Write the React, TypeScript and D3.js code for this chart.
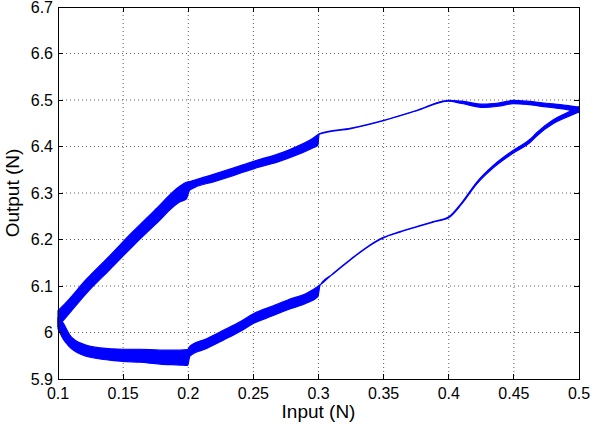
import React from "react";
import * as d3 from "d3";

// Hysteresis loop: output force against input force.
// Each branch: input (N), mean output (N), spread of the trace across cycles (N).
const upperInput = [
  0.1, 0.105, 0.122, 0.14, 0.157, 0.175, 0.1937, 0.1985, 0.201, 0.205, 0.2193,
  0.235, 0.25, 0.2704, 0.2833, 0.296, 0.2995, 0.3005, 0.325, 0.35, 0.375, 0.4,
  0.41, 0.4266, 0.438, 0.4496, 0.46, 0.475, 0.49, 0.5,
];
const upperOutput = [
  6.03, 6.045, 6.1, 6.151, 6.2, 6.249, 6.298, 6.305, 6.315, 6.32, 6.332, 6.346,
  6.36, 6.377, 6.391, 6.408, 6.414, 6.427, 6.439, 6.456, 6.477, 6.4985, 6.495,
  6.4875, 6.49, 6.4955, 6.494, 6.489, 6.484, 6.479,
];
const upperSpread = [
  0.034, 0.032, 0.03, 0.03, 0.031, 0.032, 0.034, 0.036, 0.019, 0.016, 0.016,
  0.016, 0.016, 0.017, 0.018, 0.021, 0.023, 0.001, 0.001, 0.001, 0.001, 0.002,
  0.005, 0.007, 0.007, 0.007, 0.007, 0.008, 0.009, 0.011,
];

const lowerInput = [
  0.1, 0.102, 0.104, 0.107, 0.1092, 0.114, 0.1194, 0.1322, 0.1497, 0.163,
  0.1783, 0.1937, 0.1995, 0.2013, 0.2141, 0.2269, 0.2397, 0.25, 0.2653, 0.2768,
  0.2909, 0.2995, 0.3012, 0.3114, 0.3242, 0.337, 0.3498, 0.3626, 0.3754, 0.3881,
  0.4, 0.41, 0.4214, 0.4342, 0.4496, 0.4624, 0.4675, 0.4803, 0.49, 0.5,
];
const lowerOutput = [
  6.02, 6.012, 6.003, 5.99, 5.981, 5.97, 5.963, 5.955, 5.951, 5.95, 5.947,
  5.946, 5.946, 5.96, 5.976, 5.994, 6.0125, 6.03, 6.047, 6.06, 6.074, 6.088,
  6.102, 6.127, 6.156, 6.183, 6.204, 6.2165, 6.2275, 6.238, 6.248, 6.278, 6.321,
  6.3566, 6.389, 6.412, 6.426, 6.4534, 6.467, 6.48,
];
const lowerSpread = [
  0.024, 0.03, 0.034, 0.03, 0.026, 0.024, 0.024, 0.024, 0.026, 0.028, 0.03,
  0.032, 0.034, 0.021, 0.021, 0.021, 0.021, 0.021, 0.021, 0.021, 0.021, 0.022,
  0.001, 0.001, 0.001, 0.001, 0.001, 0.001, 0.001, 0.001, 0.002, 0.003, 0.004,
  0.005, 0.006, 0.007, 0.007, 0.008, 0.009, 0.011,
];

const xTicks = [0.1, 0.15, 0.2, 0.25, 0.3, 0.35, 0.4, 0.45, 0.5];
const yTicks = [5.9, 6.0, 6.1, 6.2, 6.3, 6.4, 6.5, 6.6, 6.7];
const xTitle = "Input (N)";
const yTitle = "Output (N)";

const W = 593;
const H = 425;
const M = { left: 58, right: 14, top: 7, bottom: 46 };
const FONT = "'Liberation Sans', Arial, Helvetica, sans-serif";
const BLUE = "#0000ff";
const TICK = 5;

type Pt = { x: number; y: number; s: number };

function branch(xs: number[], ys: number[], ss: number[]): Pt[] {
  return xs.map((x, i) => ({ x, y: ys[i], s: ss[i] }));
}

const fmt = (v: number) => d3.format("~g")(+v.toFixed(2));

export default function App() {
  const x = d3.scaleLinear().domain([0.1, 0.5]).range([M.left, W - M.right]);
  const y = d3.scaleLinear().domain([5.9, 6.7]).range([H - M.bottom, M.top]);

  const band = d3
    .area<Pt>()
    .x((d) => x(d.x))
    .y0((d) => y(d.y - d.s / 2))
    .y1((d) => y(d.y + d.s / 2))
    .curve(d3.curveMonotoneX);

  const branches = [
    branch(upperInput, upperOutput, upperSpread),
    branch(lowerInput, lowerOutput, lowerSpread),
  ];

  const [x0, x1] = x.range();
  const [y0, y1] = y.range();

  return (
    <svg
      width={W}
      height={H}
      style={{ position: "absolute", left: 0, top: 0, background: "#fff" }}
      fontFamily={FONT}
    >
      <rect x={0} y={0} width={W} height={H} fill="#fff" />
      {/* dotted grid */}
      <g stroke="#333" strokeWidth={0.8} strokeDasharray="1 3" fill="none">
        {xTicks.slice(1, -1).map((t) => (
          <line key={"gx" + t} x1={x(t)} x2={x(t)} y1={y1} y2={y0} />
        ))}
        {yTicks.slice(1, -1).map((t) => (
          <line key={"gy" + t} x1={x0} x2={x1} y1={y(t)} y2={y(t)} />
        ))}
      </g>
      {/* loop traces */}
      <g fill={BLUE} stroke={BLUE} strokeWidth={1.2} strokeLinejoin="round">
        {branches.map((b, i) => (
          <path key={i} d={band(b) ?? ""} />
        ))}
      </g>
      {/* box and inward ticks */}
      <g stroke="#000" strokeWidth={1} fill="none" shapeRendering="crispEdges">
        <rect x={x0} y={y1} width={x1 - x0} height={y0 - y1} />
        {xTicks.map((t) => (
          <g key={"tx" + t}>
            <line x1={x(t)} x2={x(t)} y1={y0} y2={y0 - TICK} />
            <line x1={x(t)} x2={x(t)} y1={y1} y2={y1 + TICK} />
          </g>
        ))}
        {yTicks.map((t) => (
          <g key={"ty" + t}>
            <line x1={x0} x2={x0 + TICK} y1={y(t)} y2={y(t)} />
            <line x1={x1} x2={x1 - TICK} y1={y(t)} y2={y(t)} />
          </g>
        ))}
      </g>
      {/* tick labels */}
      <g fontSize={16} fill="#000">
        {xTicks.map((t) => (
          <text key={"lx" + t} x={x(t)} y={y0 + 20} textAnchor="middle">
            {fmt(t)}
          </text>
        ))}
        {yTicks.map((t) => (
          <text
            key={"ly" + t}
            x={x0 - 5}
            y={y(t)}
            dy="0.36em"
            textAnchor="end"
          >
            {fmt(t)}
          </text>
        ))}
      </g>
      <text
        x={(x0 + x1) / 2}
        y={418}
        textAnchor="middle"
        fontSize={19}
        fill="#000"
      >
        {xTitle}
      </text>
      <text
        transform={`translate(19, ${(y0 + y1) / 2}) rotate(-90)`}
        textAnchor="middle"
        fontSize={19}
        fill="#000"
      >
        {yTitle}
      </text>
    </svg>
  );
}
